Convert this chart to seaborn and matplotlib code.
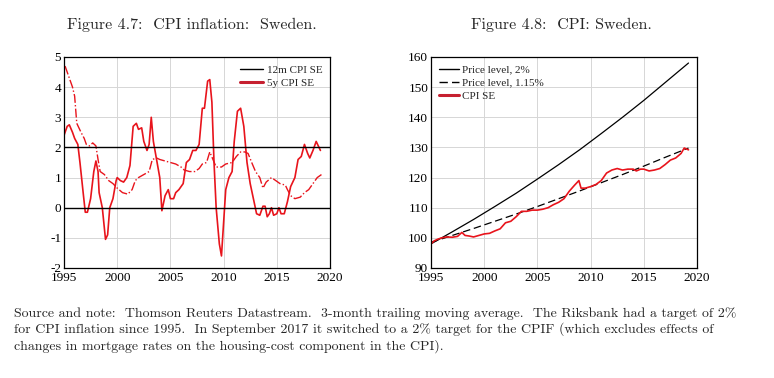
import pandas as pd
import matplotlib.pyplot as plt
import seaborn as sns
from matplotlib.lines import Line2D

sns.set_theme(style="whitegrid")
plt.rcParams['font.family'] = ['Liberation Serif', 'DejaVu Serif']
plt.rcParams['axes.unicode_minus'] = False

# Figure 4.7: inflation, percent
cpi12_year = [1995.0, 1995.3, 1995.5, 1995.8, 1996.0, 1996.3, 1996.5, 1996.8, 1997.0, 1997.2,
              1997.5, 1997.8, 1998.0, 1998.2, 1998.3, 1998.6, 1998.9, 1999.1, 1999.3, 1999.6,
              1999.9, 2000.0, 2000.3, 2000.6, 2000.9, 2001.2, 2001.5, 2001.8, 2002.0, 2002.3,
              2002.5, 2002.8, 2003.0, 2003.2, 2003.4, 2003.7, 2004.0, 2004.2, 2004.5, 2004.8,
              2005.0, 2005.3, 2005.5, 2005.8, 2006.2, 2006.5, 2006.8, 2007.1, 2007.4, 2007.7,
              2008.0, 2008.2, 2008.5, 2008.7, 2008.9, 2009.1, 2009.3, 2009.6, 2009.8, 2010.0,
              2010.2, 2010.5, 2010.8, 2011.0, 2011.3, 2011.6, 2011.9, 2012.2, 2012.5, 2012.8,
              2013.1, 2013.4, 2013.7, 2013.9, 2014.1, 2014.3, 2014.5, 2014.7, 2015.0, 2015.2,
              2015.4, 2015.7, 2016.0, 2016.3, 2016.7, 2017.0, 2017.3, 2017.6, 2017.9, 2018.1,
              2018.4, 2018.7, 2018.9, 2019.1]
cpi12_val = [2.4, 2.7, 2.75, 2.5, 2.3, 2.1, 1.5, 0.5, -0.15, -0.15,
             0.3, 1.2, 1.55, 1.2, 0.5, 0.0, -1.05, -0.9, 0.0, 0.3,
             0.9, 1.0, 0.9, 0.85, 1.0, 1.4, 2.7, 2.8, 2.6, 2.65,
             2.2, 1.9, 2.1, 3.0, 2.2, 1.6, 1.0, -0.1, 0.4, 0.6,
             0.3, 0.3, 0.5, 0.6, 0.8, 1.5, 1.6, 1.9, 1.9, 2.1,
             3.3, 3.3, 4.2, 4.25, 3.5, 1.5, 0.0, -1.2, -1.6, -0.5,
             0.6, 1.0, 1.2, 2.2, 3.2, 3.3, 2.7, 1.5, 0.8, 0.3,
             -0.2, -0.25, 0.05, 0.05, -0.3, -0.2, 0.0, -0.25, -0.2, 0.0,
             -0.2, -0.2, 0.2, 0.7, 1.0, 1.6, 1.7, 2.1, 1.8, 1.65,
             1.9, 2.2, 2.05, 1.9]

cpi5y_year = [1995.1, 1995.4, 1995.8, 1996.0, 1996.2, 1996.6, 1996.9, 1997.1, 1997.4, 1997.7,
              1998.0, 1998.2, 1998.4, 1998.8, 1999.2, 1999.6, 2000.0, 2000.5, 2001.0, 2001.4,
              2001.7, 2002.0, 2002.5, 2003.0, 2003.3, 2003.7, 2004.0, 2004.5, 2005.0, 2005.5,
              2006.0, 2006.3, 2006.8, 2007.3, 2007.7, 2008.0, 2008.4, 2008.7, 2009.0, 2009.3,
              2009.8, 2010.2, 2010.8, 2011.2, 2011.6, 2012.0, 2012.3, 2012.7, 2013.0, 2013.4,
              2013.7, 2014.0, 2014.5, 2014.9, 2015.3, 2015.8, 2016.0, 2016.3, 2016.7, 2017.2,
              2017.6, 2018.0, 2018.4, 2018.8, 2019.2]
cpi5y_val = [4.7, 4.4, 4.0, 3.7, 2.8, 2.5, 2.3, 2.1, 2.05, 2.15,
             2.05, 1.6, 1.2, 1.1, 0.9, 0.8, 0.65, 0.5, 0.45, 0.6,
             0.9, 1.0, 1.1, 1.2, 1.6, 1.65, 1.6, 1.55, 1.5, 1.45,
             1.35, 1.25, 1.2, 1.2, 1.3, 1.45, 1.5, 1.85, 1.6, 1.35,
             1.35, 1.45, 1.5, 1.7, 1.85, 1.85, 1.8, 1.45, 1.2, 1.0,
             0.65, 0.85, 1.0, 0.9, 0.8, 0.75, 0.6, 0.4, 0.3, 0.35,
             0.5, 0.6, 0.8, 1.0, 1.1]

# Figure 4.8: price level, index
level_year = [1995, 1997, 1999, 2001, 2003, 2005, 2007, 2009, 2011, 2013, 2015, 2017, 2019.2]
level_2pct = [98.0, 102.0, 106.1, 110.4, 114.8, 119.5, 124.3, 129.3, 134.6, 140.0, 145.6, 151.5, 158.0]
level_115pct = [98.5, 100.8, 103.1, 105.5, 107.9, 110.4, 113.0, 115.6, 118.3, 121.0, 123.8, 126.7, 129.8]

cpi_year = [1995.0, 1995.3, 1995.6, 1996.0, 1996.5, 1997.0, 1997.5, 1997.9, 1998.2, 1998.6,
            1999.0, 1999.5, 2000.0, 2000.5, 2001.0, 2001.5, 2002.0, 2002.5, 2003.0, 2003.5,
            2004.0, 2004.5, 2005.0, 2005.5, 2006.0, 2006.5, 2007.0, 2007.5, 2008.0, 2008.5,
            2008.9, 2009.1, 2009.5, 2010.0, 2010.5, 2011.0, 2011.5, 2012.0, 2012.5, 2013.0,
            2013.5, 2014.0, 2014.3, 2014.7, 2015.0, 2015.5, 2016.0, 2016.5, 2017.0, 2017.5,
            2018.0, 2018.5, 2018.8, 2019.2]
cpi_val = [98.0, 99.0, 99.5, 100.0, 100.3, 100.2, 100.5, 101.8, 100.8, 100.6,
           100.3, 100.8, 101.3, 101.5, 102.3, 103.0, 105.0, 105.5, 107.0, 108.8,
           108.8, 109.2, 109.2, 109.5, 110.0, 111.0, 111.8, 113.0, 115.5, 117.5,
           119.0, 116.5, 116.5, 117.0, 117.7, 119.0, 121.5, 122.5, 123.0, 122.5,
           122.8, 122.8, 122.2, 122.8, 122.8, 122.2, 122.5, 123.0, 124.3, 125.8,
           126.5, 128.0, 129.8, 129.2]

red = '#e8141c'
legend_red = '#c62030'

fig = plt.figure(figsize=(7.74, 3.78), dpi=100)
ax1 = fig.add_axes([64 / 774, 1 - 268 / 378, 266 / 774, 211 / 378])
ax2 = fig.add_axes([431 / 774, 1 - 268 / 378, 266 / 774, 211 / 378])

df12 = pd.DataFrame({'year': cpi12_year, 'value': cpi12_val})
df5 = pd.DataFrame({'year': cpi5y_year, 'value': cpi5y_val})
sns.lineplot(data=df12, x='year', y='value', ax=ax1, color=red, lw=1.2)
sns.lineplot(data=df5, x='year', y='value', ax=ax1, color=red, lw=1.0, linestyle='-.')
ax1.axhline(0, color='black', lw=1.0)
ax1.axhline(2, color='black', lw=1.0)
ax1.set_xlim(1995, 2020)
ax1.set_ylim(-2, 5)
ax1.set_yticks(range(-2, 6))

dfl = pd.DataFrame({'year': level_year, 'p2': level_2pct, 'p115': level_115pct})
dfc = pd.DataFrame({'year': cpi_year, 'value': cpi_val})
sns.lineplot(data=dfl, x='year', y='p2', ax=ax2, color='black', lw=0.9)
sns.lineplot(data=dfl, x='year', y='p115', ax=ax2, color='black', lw=0.9, linestyle=(0, (6, 3)))
sns.lineplot(data=dfc, x='year', y='value', ax=ax2, color=red, lw=1.2)
ax2.set_xlim(1995, 2020)
ax2.set_ylim(90, 160)
ax2.set_yticks(range(90, 170, 10))

for ax in (ax1, ax2):
    ax.set_xticks(range(1995, 2025, 5))
    ax.set_xlabel('')
    ax.set_ylabel('')
    ax.grid(True, color='#d6d6d6', lw=0.7)
    ax.set_facecolor('white')
    for s in ax.spines.values():
        s.set_color('black')
        s.set_linewidth(0.9)
    ax.tick_params(axis='both', labelsize=9.5, length=0, colors='black')
    ax.tick_params(axis='y', pad=2)
    ax.tick_params(axis='x', pad=3)

h1 = [Line2D([], [], color='black', lw=1.0), Line2D([], [], color=legend_red, lw=2.2)]
ax1.legend(h1, ['12m CPI SE', '5y CPI SE'], loc='upper right', frameon=False, fontsize=8,
           handlelength=2.0, handletextpad=0.35, labelspacing=0.3, borderaxespad=0.3)
h2 = [Line2D([], [], color='black', lw=1.0), Line2D([], [], color='black', lw=1.0, linestyle=(0, (6, 3))),
      Line2D([], [], color=legend_red, lw=2.2)]
ax2.legend(h2, ['Price level, 2%', 'Price level, 1.15%', 'CPI SE'], loc='upper left', frameon=False,
           fontsize=8, handlelength=1.8, handletextpad=0.3, labelspacing=0.3, borderaxespad=0.3)

fig.text(192 / 774, 1 - 25 / 378, 'Figure 4.7:  CPI inflation:  Sweden.', fontsize=11.5, family='cmr10',
         ha='center', va='center')
fig.text(561 / 774, 1 - 25 / 378, 'Figure 4.8:  CPI: Sweden.', fontsize=11.5, family='cmr10',
         ha='center', va='center')

note = ('Source and note:  Thomson Reuters Datastream.  3-month trailing moving average.  The Riksbank had a target of 2%\n'
        'for CPI inflation since 1995.  In September 2017 it switched to a 2% target for the CPIF (which excludes effects of\n'
        'changes in mortgage rates on the housing-cost component in the CPI).')
fig.text(14 / 774, 1 - 307 / 378, note, family='cmr10', fontsize=10, va='top', ha='left', linespacing=1.3)

fig.savefig('out.png', dpi=100, facecolor='white')
